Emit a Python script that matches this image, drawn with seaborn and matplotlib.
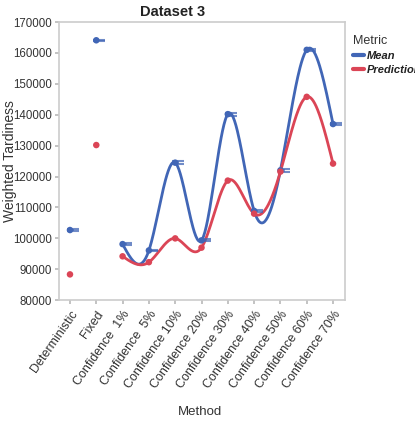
"""Dataset 3: weighted tardiness by method (mean vs prediction)."""
import matplotlib
matplotlib.use("Agg")
import matplotlib.pyplot as plt
import numpy as np
import pandas as pd
import seaborn as sns

methods = ["Deterministic", "Fixed", "Confidence  1%", "Confidence  5%",
           "Confidence 10%", "Confidence 20%", "Confidence 30%", "Confidence 40%",
           "Confidence 50%", "Confidence 60%", "Confidence 70%"]
mean_vals = [102700, 164100, 98150, 96100, 124500, 99350, 140200, 108900,
             122000, 161000, 137000]
pred_vals = [88350, 130200, 94200, 92300, 100000, 97000, 118700, 108000,
             121600, 145800, 124200]
mean_err = [250, 250, 300, 250, 500, 300, 500, 300, 400, 350, 350]

BLUE = "#4166b6"
RED = "#db4556"

sns.set_theme(style="ticks")
plt.rcParams["font.family"] = ["Liberation Sans Narrow", "Liberation Sans", "DejaVu Sans"]

df = pd.DataFrame({
    "Method": methods * 2,
    "x": list(range(len(methods))) * 2,
    "value": mean_vals + pred_vals,
    "Metric": ["Mean"] * len(methods) + ["Prediction"] * len(methods),
})


def natural_spline(x, y, n=300):
    # natural cubic spline, only for drawing the smooth line
    x = np.asarray(x, float)
    y = np.asarray(y, float)
    k = len(x)
    h = np.diff(x)
    A = np.zeros((k, k))
    b = np.zeros(k)
    A[0, 0] = A[-1, -1] = 1
    for i in range(1, k - 1):
        A[i, i - 1] = h[i - 1]
        A[i, i] = 2 * (h[i - 1] + h[i])
        A[i, i + 1] = h[i]
        b[i] = 3 * ((y[i + 1] - y[i]) / h[i] - (y[i] - y[i - 1]) / h[i - 1])
    c = np.linalg.solve(A, b)
    xs = np.linspace(x[0], x[-1], n)
    idx = np.clip(np.searchsorted(x, xs) - 1, 0, k - 2)
    dx = xs - x[idx]
    bb = (y[idx + 1] - y[idx]) / h[idx] - h[idx] * (2 * c[idx] + c[idx + 1]) / 3
    d = (c[idx + 1] - c[idx]) / (3 * h[idx])
    ys = y[idx] + bb * dx + c[idx] * dx ** 2 + d * dx ** 3
    return xs, ys


fig = plt.figure(figsize=(4.15, 4.24), dpi=100)
ax = fig.add_axes([0.142, 0.292, 0.689, 0.656])

palette = {"Mean": BLUE, "Prediction": RED}
conf = df[df["x"] >= 2]
curves = []
for metric, grp in conf.groupby("Metric"):
    xs, ys = natural_spline(grp["x"], grp["value"])
    curves.append(pd.DataFrame({"x": xs, "value": ys, "Metric": metric}))
curves = pd.concat(curves)
sns.lineplot(data=curves, x="x", y="value", hue="Metric", palette=palette,
             lw=2, ax=ax, sort=False, estimator=None)

sns.scatterplot(data=df, x="x", y="value", hue="Metric", palette=palette,
                s=22, edgecolor="none", ax=ax, legend=False, zorder=3)
ax.errorbar(np.arange(len(methods)) + 0.12, mean_vals, yerr=mean_err, fmt="none",
            ecolor=BLUE, elinewidth=1.2, capsize=4, capthick=1.5, alpha=0.75)

ax.set_xlim(-0.42, 10.45)
ax.set_ylim(80000, 170000)
ax.set_yticks(np.arange(80000, 170001, 10000))
ax.set_xticks(range(len(methods)))
ax.set_xticklabels(methods, rotation=55, ha="right", rotation_mode="anchor")
ax.tick_params(axis="y", labelsize=8.3, colors="#333333", length=3, color="#bbbbbb", pad=2)
ax.tick_params(axis="x", labelsize=9, colors="#333333", length=3, color="#bbbbbb", pad=3)
for s in ax.spines.values():
    s.set_color("#cccccc")
    s.set_linewidth(1.2)

ax.set_xlabel("")
ax.set_ylabel("Weighted Tardiness", fontsize=10, color="#333333")
ax.yaxis.set_label_coords(-0.148, 0.5)
fig.text(0.482, 0.028, "Method", ha="center", va="center", fontsize=9.5, color="#333333")
fig.text(0.415, 0.972, "Dataset 3", ha="center", va="center",
         fontsize=10.5, fontweight="bold", color="#222222")

leg = ax.legend(title="Metric", loc="upper left", bbox_to_anchor=(1.012, 0.97),
                frameon=False, handlelength=1.0, borderaxespad=0, fontsize=8,
                title_fontsize=9, alignment="left", handletextpad=0.3,
                labelspacing=0.35)
for t in leg.get_texts():
    t.set_fontweight("bold")
    t.set_fontstyle("italic")
    t.set_color("#222222")
leg.get_title().set_color("#333333")
for line in leg.get_lines():
    line.set_linewidth(3)

fig.savefig("out.png", dpi=100)
